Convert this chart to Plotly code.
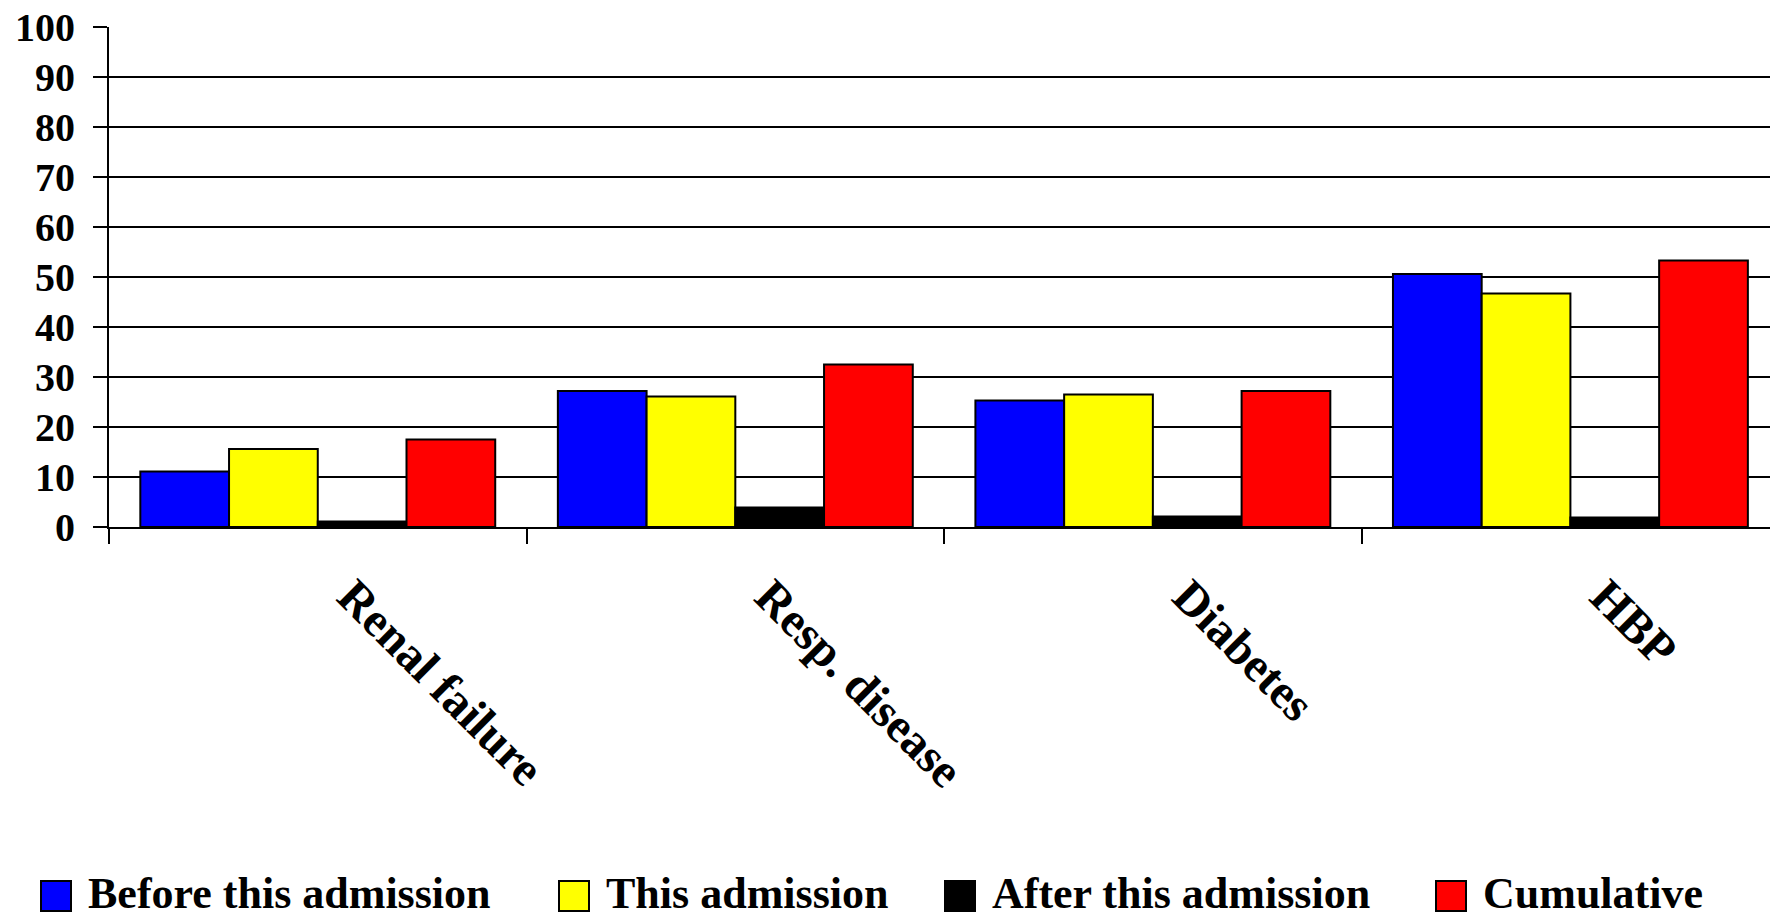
import plotly.graph_objects as go

# Comorbidity prevalence (%) by admission timing
categories = ["Renal failure", "Resp. disease", "Diabetes", "HBP"]
before_admission = [11.1, 27.2, 25.3, 50.6]
this_admission = [15.6, 26.1, 26.5, 46.7]
after_admission = [1.1, 3.9, 2.1, 1.9]
cumulative = [17.5, 32.5, 27.2, 53.3]

series_names = ["Before this admission", "This admission",
                "After this admission", "Cumulative"]
series_values = [before_admission, this_admission, after_admission, cumulative]
series_colors = ["#0000FF", "#FFFF00", "#000000", "#FF0000"]

y_ticks = list(range(0, 101, 10))

W, H = 1770, 918
M_L, M_R, M_T, M_B = 109, 0, 27, 391
FONT = "Liberation Serif, Times New Roman, serif"

fig = go.Figure()
for name, vals, col in zip(series_names, series_values, series_colors):
    fig.add_trace(go.Bar(
        x=categories, y=vals, name=name,
        marker=dict(color=col, line=dict(color="black", width=2)),
        showlegend=False,
    ))

fig.update_layout(
    width=W, height=H,
    margin=dict(l=M_L, r=M_R, t=M_T, b=M_B, pad=0),
    paper_bgcolor="white", plot_bgcolor="white",
    barmode="group", bargap=0.15, bargroupgap=0,
    font=dict(family=FONT, size=44, color="black"),
)

fig.update_xaxes(
    type="category", range=[-0.5, 3.478],
    showline=True, linecolor="black", linewidth=2,
    ticks="outside", tickson="boundaries", ticklen=15, tickwidth=2,
    tickcolor="black", tickangle=45, showgrid=False,
    ticklabelshift=34, ticklabelstandoff=20,
    tickfont=dict(family=FONT, size=48, color="black", weight="bold"),
)
fig.update_yaxes(
    range=[0, 100], tickvals=y_ticks,
    showline=True, linecolor="black", linewidth=2,
    ticks="outside", ticklen=14, tickwidth=2, tickcolor="black",
    showgrid=True, gridcolor="black", gridwidth=1.5,
    zeroline=False, ticklabelstandoff=10,
    tickfont=dict(family=FONT, size=40, color="black", weight="bold"),
)

# Legend row drawn below the axis labels
plot_w = W - M_L - M_R
plot_h = H - M_T - M_B


def px_x(px):
    return (px - M_L) / plot_w


def px_y(py):
    return (H - M_B - py) / plot_h


legend_swatch_left = [41, 559, 945, 1436]
swatch = 30
swatch_mid = 896
text_mid = 893
for name, col, left in zip(series_names, series_colors, legend_swatch_left):
    fig.add_shape(
        type="rect", xref="paper", yref="paper",
        x0=px_x(left), x1=px_x(left + swatch),
        y0=px_y(swatch_mid + swatch / 2), y1=px_y(swatch_mid - swatch / 2),
        fillcolor=col, line=dict(color="black", width=2),
    )
    fig.add_annotation(
        xref="paper", yref="paper", x=px_x(left + swatch + 16),
        y=px_y(text_mid), xanchor="left", yanchor="middle",
        borderpad=0, text=name, showarrow=False,
        font=dict(family=FONT, size=44, color="black", weight="bold"),
    )

fig.write_html("out.html")
